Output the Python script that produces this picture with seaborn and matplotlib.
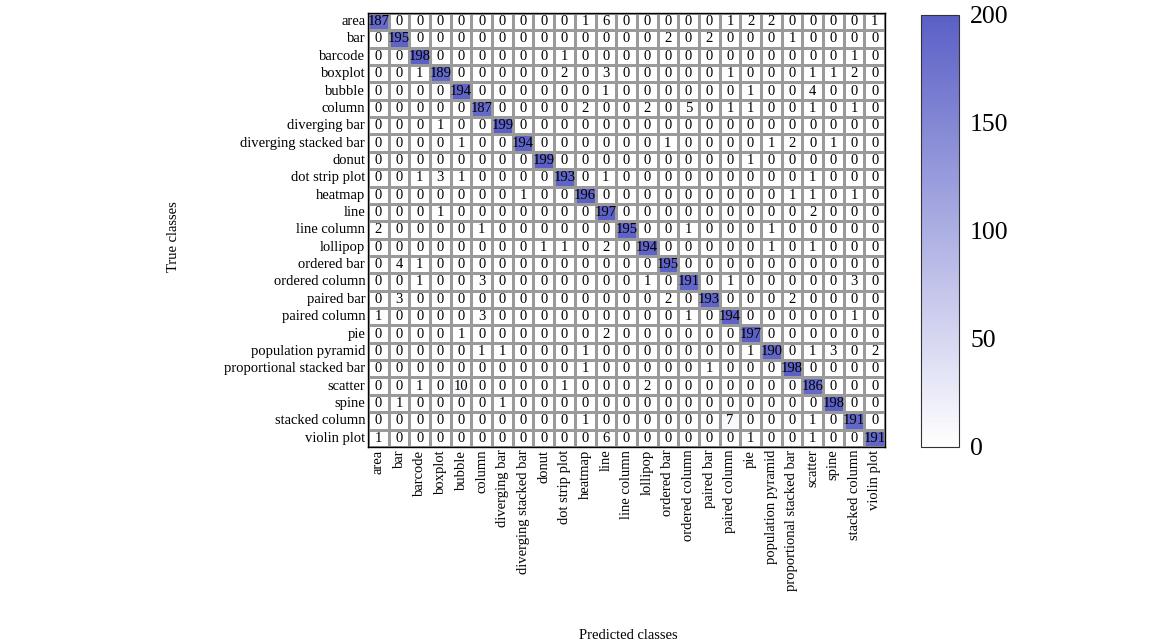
import numpy as np
import pandas as pd
import matplotlib
matplotlib.use("Agg")
import matplotlib.pyplot as plt
import seaborn as sns
from matplotlib.colors import LinearSegmentedColormap

classes = [
    "area", "bar", "barcode", "boxplot", "bubble", "column", "diverging bar",
    "diverging stacked bar", "donut", "dot strip plot", "heatmap", "line",
    "line column", "lollipop", "ordered bar", "ordered column", "paired bar",
    "paired column", "pie", "population pyramid", "proportional stacked bar",
    "scatter", "spine", "stacked column", "violin plot",
]

# one row per true class, columns follow the predicted classes
row_area = [187, 0, 0, 0, 0, 0, 0, 0, 0, 0, 1, 6, 0, 0, 0, 0, 0, 1, 2, 2, 0, 0, 0, 0, 1]
row_bar = [0, 195, 0, 0, 0, 0, 0, 0, 0, 0, 0, 0, 0, 0, 2, 0, 2, 0, 0, 0, 1, 0, 0, 0, 0]
row_barcode = [0, 0, 198, 0, 0, 0, 0, 0, 0, 1, 0, 0, 0, 0, 0, 0, 0, 0, 0, 0, 0, 0, 0, 1, 0]
row_boxplot = [0, 0, 1, 189, 0, 0, 0, 0, 0, 2, 0, 3, 0, 0, 0, 0, 0, 1, 0, 0, 0, 1, 1, 2, 0]
row_bubble = [0, 0, 0, 0, 194, 0, 0, 0, 0, 0, 0, 1, 0, 0, 0, 0, 0, 0, 1, 0, 0, 4, 0, 0, 0]
row_column = [0, 0, 0, 0, 0, 187, 0, 0, 0, 0, 2, 0, 0, 2, 0, 5, 0, 1, 1, 0, 0, 1, 0, 1, 0]
row_diverging_bar = [0, 0, 0, 1, 0, 0, 199, 0, 0, 0, 0, 0, 0, 0, 0, 0, 0, 0, 0, 0, 0, 0, 0, 0, 0]
row_diverging_stacked_bar = [0, 0, 0, 0, 1, 0, 0, 194, 0, 0, 0, 0, 0, 0, 1, 0, 0, 0, 0, 1, 2, 0, 1, 0, 0]
row_donut = [0, 0, 0, 0, 0, 0, 0, 0, 199, 0, 0, 0, 0, 0, 0, 0, 0, 0, 1, 0, 0, 0, 0, 0, 0]
row_dot_strip_plot = [0, 0, 1, 3, 1, 0, 0, 0, 0, 193, 0, 1, 0, 0, 0, 0, 0, 0, 0, 0, 0, 1, 0, 0, 0]
row_heatmap = [0, 0, 0, 0, 0, 0, 0, 1, 0, 0, 196, 0, 0, 0, 0, 0, 0, 0, 0, 0, 1, 1, 0, 1, 0]
row_line = [0, 0, 0, 1, 0, 0, 0, 0, 0, 0, 0, 197, 0, 0, 0, 0, 0, 0, 0, 0, 0, 2, 0, 0, 0]
row_line_column = [2, 0, 0, 0, 0, 1, 0, 0, 0, 0, 0, 0, 195, 0, 0, 1, 0, 0, 0, 1, 0, 0, 0, 0, 0]
row_lollipop = [0, 0, 0, 0, 0, 0, 0, 0, 1, 1, 0, 2, 0, 194, 0, 0, 0, 0, 0, 1, 0, 1, 0, 0, 0]
row_ordered_bar = [0, 4, 1, 0, 0, 0, 0, 0, 0, 0, 0, 0, 0, 0, 195, 0, 0, 0, 0, 0, 0, 0, 0, 0, 0]
row_ordered_column = [0, 0, 1, 0, 0, 3, 0, 0, 0, 0, 0, 0, 0, 1, 0, 191, 0, 1, 0, 0, 0, 0, 0, 3, 0]
row_paired_bar = [0, 3, 0, 0, 0, 0, 0, 0, 0, 0, 0, 0, 0, 0, 2, 0, 193, 0, 0, 0, 2, 0, 0, 0, 0]
row_paired_column = [1, 0, 0, 0, 0, 3, 0, 0, 0, 0, 0, 0, 0, 0, 0, 1, 0, 194, 0, 0, 0, 0, 0, 1, 0]
row_pie = [0, 0, 0, 0, 1, 0, 0, 0, 0, 0, 0, 2, 0, 0, 0, 0, 0, 0, 197, 0, 0, 0, 0, 0, 0]
row_population_pyramid = [0, 0, 0, 0, 0, 1, 1, 0, 0, 0, 1, 0, 0, 0, 0, 0, 0, 0, 1, 190, 0, 1, 3, 0, 2]
row_proportional_stacked_bar = [0, 0, 0, 0, 0, 0, 0, 0, 0, 0, 1, 0, 0, 0, 0, 0, 1, 0, 0, 0, 198, 0, 0, 0, 0]
row_scatter = [0, 0, 1, 0, 10, 0, 0, 0, 0, 1, 0, 0, 0, 2, 0, 0, 0, 0, 0, 0, 0, 186, 0, 0, 0]
row_spine = [0, 1, 0, 0, 0, 0, 1, 0, 0, 0, 0, 0, 0, 0, 0, 0, 0, 0, 0, 0, 0, 0, 198, 0, 0]
row_stacked_column = [0, 0, 0, 0, 0, 0, 0, 0, 0, 0, 1, 0, 0, 0, 0, 0, 0, 7, 0, 0, 0, 1, 0, 191, 0]
row_violin_plot = [1, 0, 0, 0, 0, 0, 0, 0, 0, 0, 0, 6, 0, 0, 0, 0, 0, 0, 1, 0, 0, 1, 0, 0, 191]

rows = [
    row_area, row_bar, row_barcode, row_boxplot, row_bubble, row_column,
    row_diverging_bar, row_diverging_stacked_bar, row_donut, row_dot_strip_plot,
    row_heatmap, row_line, row_line_column, row_lollipop, row_ordered_bar,
    row_ordered_column, row_paired_bar, row_paired_column, row_pie,
    row_population_pyramid, row_proportional_stacked_bar, row_scatter,
    row_spine, row_stacked_column, row_violin_plot,
]
colorbar_ticks = [0, 50, 100, 150, 200]

cm = pd.DataFrame(np.array(rows), index=classes, columns=classes)

sns.set_theme(style="white")
plt.rcParams["font.family"] = ["Liberation Serif", "DejaVu Serif"]
plt.rcParams["text.color"] = "black"
plt.rcParams["axes.labelcolor"] = "black"
plt.rcParams["xtick.color"] = "black"
plt.rcParams["ytick.color"] = "black"

cmap = LinearSegmentedColormap.from_list("wb", ["#ffffff", "#5a5fc6"])

fig = plt.figure(figsize=(11.69, 6.44), dpi=100)
ax = fig.add_axes([0.3148, 0.306, 0.4423, 0.674])
cax = fig.add_axes([0.7879, 0.306, 0.0325, 0.671])

sns.heatmap(
    cm, ax=ax, cbar_ax=cax, cmap=cmap, vmin=0, vmax=200,
    annot=True, fmt="d", annot_kws={"fontsize": 10.5, "color": "black"},
    linewidths=0.8, linecolor="#9a9a9a",
    cbar_kws={"ticks": colorbar_ticks},
)

for s in ax.spines.values():
    s.set_visible(True)
    s.set_color("black")
    s.set_linewidth(1.0)

ax.tick_params(axis="both", length=0, labelsize=10.5, pad=2, colors="black")
ax.set_xticklabels(classes, rotation=90, fontsize=10.5)
ax.set_yticklabels(classes, rotation=0, fontsize=10.5)

ax.set_xlabel("Predicted classes", fontsize=10.5, color="black")
ax.set_ylabel("True classes", fontsize=10.5, color="black")
ax.xaxis.set_label_coords(0.503, -0.42)
ax.yaxis.set_label_coords(-0.364, 0.484)

cbar = ax.collections[0].colorbar
cbar.outline.set_edgecolor("#333333")
cbar.outline.set_linewidth(0.8)
cax.tick_params(labelsize=18.5, length=0, pad=8, colors="black")

fig.savefig("out.png", dpi=100)
